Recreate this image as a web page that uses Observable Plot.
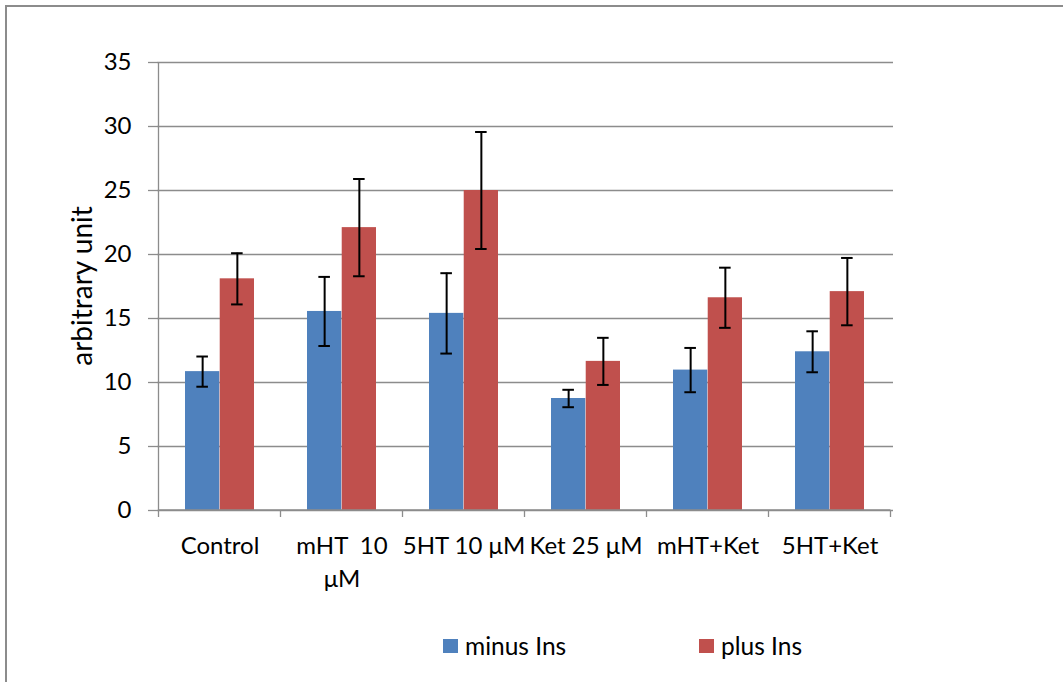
<!DOCTYPE html>
<html><head><meta charset="utf-8">
<script src="https://cdn.jsdelivr.net/npm/d3@7"></script>
<script src="https://cdn.jsdelivr.net/npm/@observablehq/plot@0.6"></script>
<style>
body{margin:0;background:#fff;}
#wrap{position:relative;width:1063px;height:682px;overflow:hidden;font-family:Lato,sans-serif;color:#000;}
#frame{position:absolute;left:5px;top:5px;width:1100px;height:720px;border-top:2px solid #8c8c8c;border-left:2px solid #8c8c8c;}
#chart{position:absolute;left:0;top:0;}
.leg{position:absolute;top:631px;display:flex;align-items:center;font-size:24.5px;font-family:Lato,sans-serif;}
.sw{width:15px;height:14px;margin-right:7px;}
</style></head>
<body>
<div id="wrap"><div id="frame"></div><div id="chart"></div>
<div id="legend"></div></div>
<script>
const categories = ["Control","mHT  10 μM","5HT 10 μM","Ket 25 μM","mHT+Ket","5HT+Ket"];
const tickLabels = ["Control","mHT  10\nμM","5HT 10 μM","Ket 25 μM","mHT+Ket","5HT+Ket"];
const series = ["minus Ins","plus Ins"];
const minusIns = [10.85, 15.55, 15.4, 8.75, 10.97, 12.4];
const minusErr = [1.18, 2.7, 3.14, 0.68, 1.73, 1.6];
const plusIns = [18.1, 22.1, 25.0, 11.65, 16.62, 17.1];
const plusErr = [2.0, 3.8, 4.57, 1.84, 2.35, 2.63];
const yTicks = [0,5,10,15,20,25,30,35];
const yLabel = "arbitrary unit";
const colors = ["#4F81BD","#C0504D"];

const W = 1063, H = 600, mL = 157, mR = 170, mT = 62, mB = 90;
const padIn = 0.434;
const step = (W - mL - mR) / categories.length;
const bw = step * (1 - padIn);
const half = bw / 2;
const capW = 12;
const capInset = (bw - capW) / 2;

const minusRows = categories.map((c,i)=>({category:c, value:minusIns[i], err:minusErr[i]}));
const plusRows = categories.map((c,i)=>({category:c, value:plusIns[i], err:plusErr[i]}));

function errMarks(rows, dx){
  return [
    Plot.ruleX(rows, {x:"category", y1:d=>d.value-d.err, y2:d=>d.value+d.err, dx, stroke:"#000", strokeWidth:2}),
    Plot.tickY(rows, {x:"category", y:d=>d.value+d.err, dx, insetLeft:capInset, insetRight:capInset, stroke:"#000", strokeWidth:2}),
    Plot.tickY(rows, {x:"category", y:d=>d.value-d.err, dx, insetLeft:capInset, insetRight:capInset, stroke:"#000", strokeWidth:2})
  ];
}

const chart = Plot.plot({
  width: W, height: H,
  marginLeft: mL, marginRight: mR, marginTop: mT, marginBottom: mB,
  style: {fontFamily: "Lato, sans-serif", fontSize: "24px", background: "transparent", color: "#000"},
  x: {domain: categories, paddingInner: padIn, paddingOuter: padIn/2},
  y: {domain: [0,35]},
  marks: [
    Plot.gridY(yTicks, {stroke:"#8c8c8c", strokeOpacity:1, strokeWidth:1.3}),
    Plot.axisY({ticks: yTicks, tickSize: 9, tickPadding: 17, stroke:"#8c8c8c", strokeWidth:1.3, fontSize: 24, label: null}),
    Plot.axisX({tickSize: 0, tickPadding: 20, label: null, lineHeight: 1.38, fontSize: 24,
      tickFormat: d => tickLabels[categories.indexOf(d)]}),
    Plot.barY(minusRows, {x:"category", y:"value", fill:colors[0], insetLeft:0, insetRight:half}),
    Plot.barY(plusRows, {x:"category", y:"value", fill:colors[1], insetLeft:half, insetRight:0}),
    ...errMarks(minusRows, -half/2),
    ...errMarks(plusRows, half/2)
  ]
});

// axis line, boundary ticks and y label, positioned with the plot's own scales
const xs = chart.scale("x"), ys = chart.scale("y");
const gap = (xs.step - xs.bandwidth) / 2;
const bounds = categories.map(c => xs.apply(c) - gap);
bounds.push(xs.apply(categories[categories.length-1]) + xs.bandwidth + gap);
const y0 = ys.apply(0), yTop = ys.apply(35);
const svg = d3.select(chart);
const g = svg.append("g").attr("stroke","#8c8c8c").attr("stroke-width",1.3);
g.selectAll("line.b").data(bounds).join("line").attr("class","b")
  .attr("x1",d=>d).attr("x2",d=>d).attr("y1",y0).attr("y2",y0+7);
g.append("line").attr("x1",bounds[0]).attr("x2",bounds[0]).attr("y1",yTop).attr("y2",y0);
g.append("line").attr("x1",bounds[0]).attr("x2",bounds[bounds.length-1]).attr("y1",y0).attr("y2",y0);
svg.append("text").text(yLabel)
  .attr("transform", `translate(${bounds[0]-67},${(y0+yTop)/2}) rotate(-90)`)
  .attr("text-anchor","middle").style("font-size","28px").style("font-family","Lato, sans-serif").attr("fill","#000");

document.getElementById("chart").appendChild(chart);

const legendPos = [443, 699];
const leg = document.getElementById("legend");
series.forEach((s,i)=>{
  const it = document.createElement("div");
  it.className = "leg"; it.style.left = legendPos[i] + "px";
  const sw = document.createElement("div"); sw.className = "sw"; sw.style.background = colors[i];
  const tx = document.createElement("span"); tx.textContent = s;
  it.appendChild(sw); it.appendChild(tx); leg.appendChild(it);
});
</script>
</body></html>
